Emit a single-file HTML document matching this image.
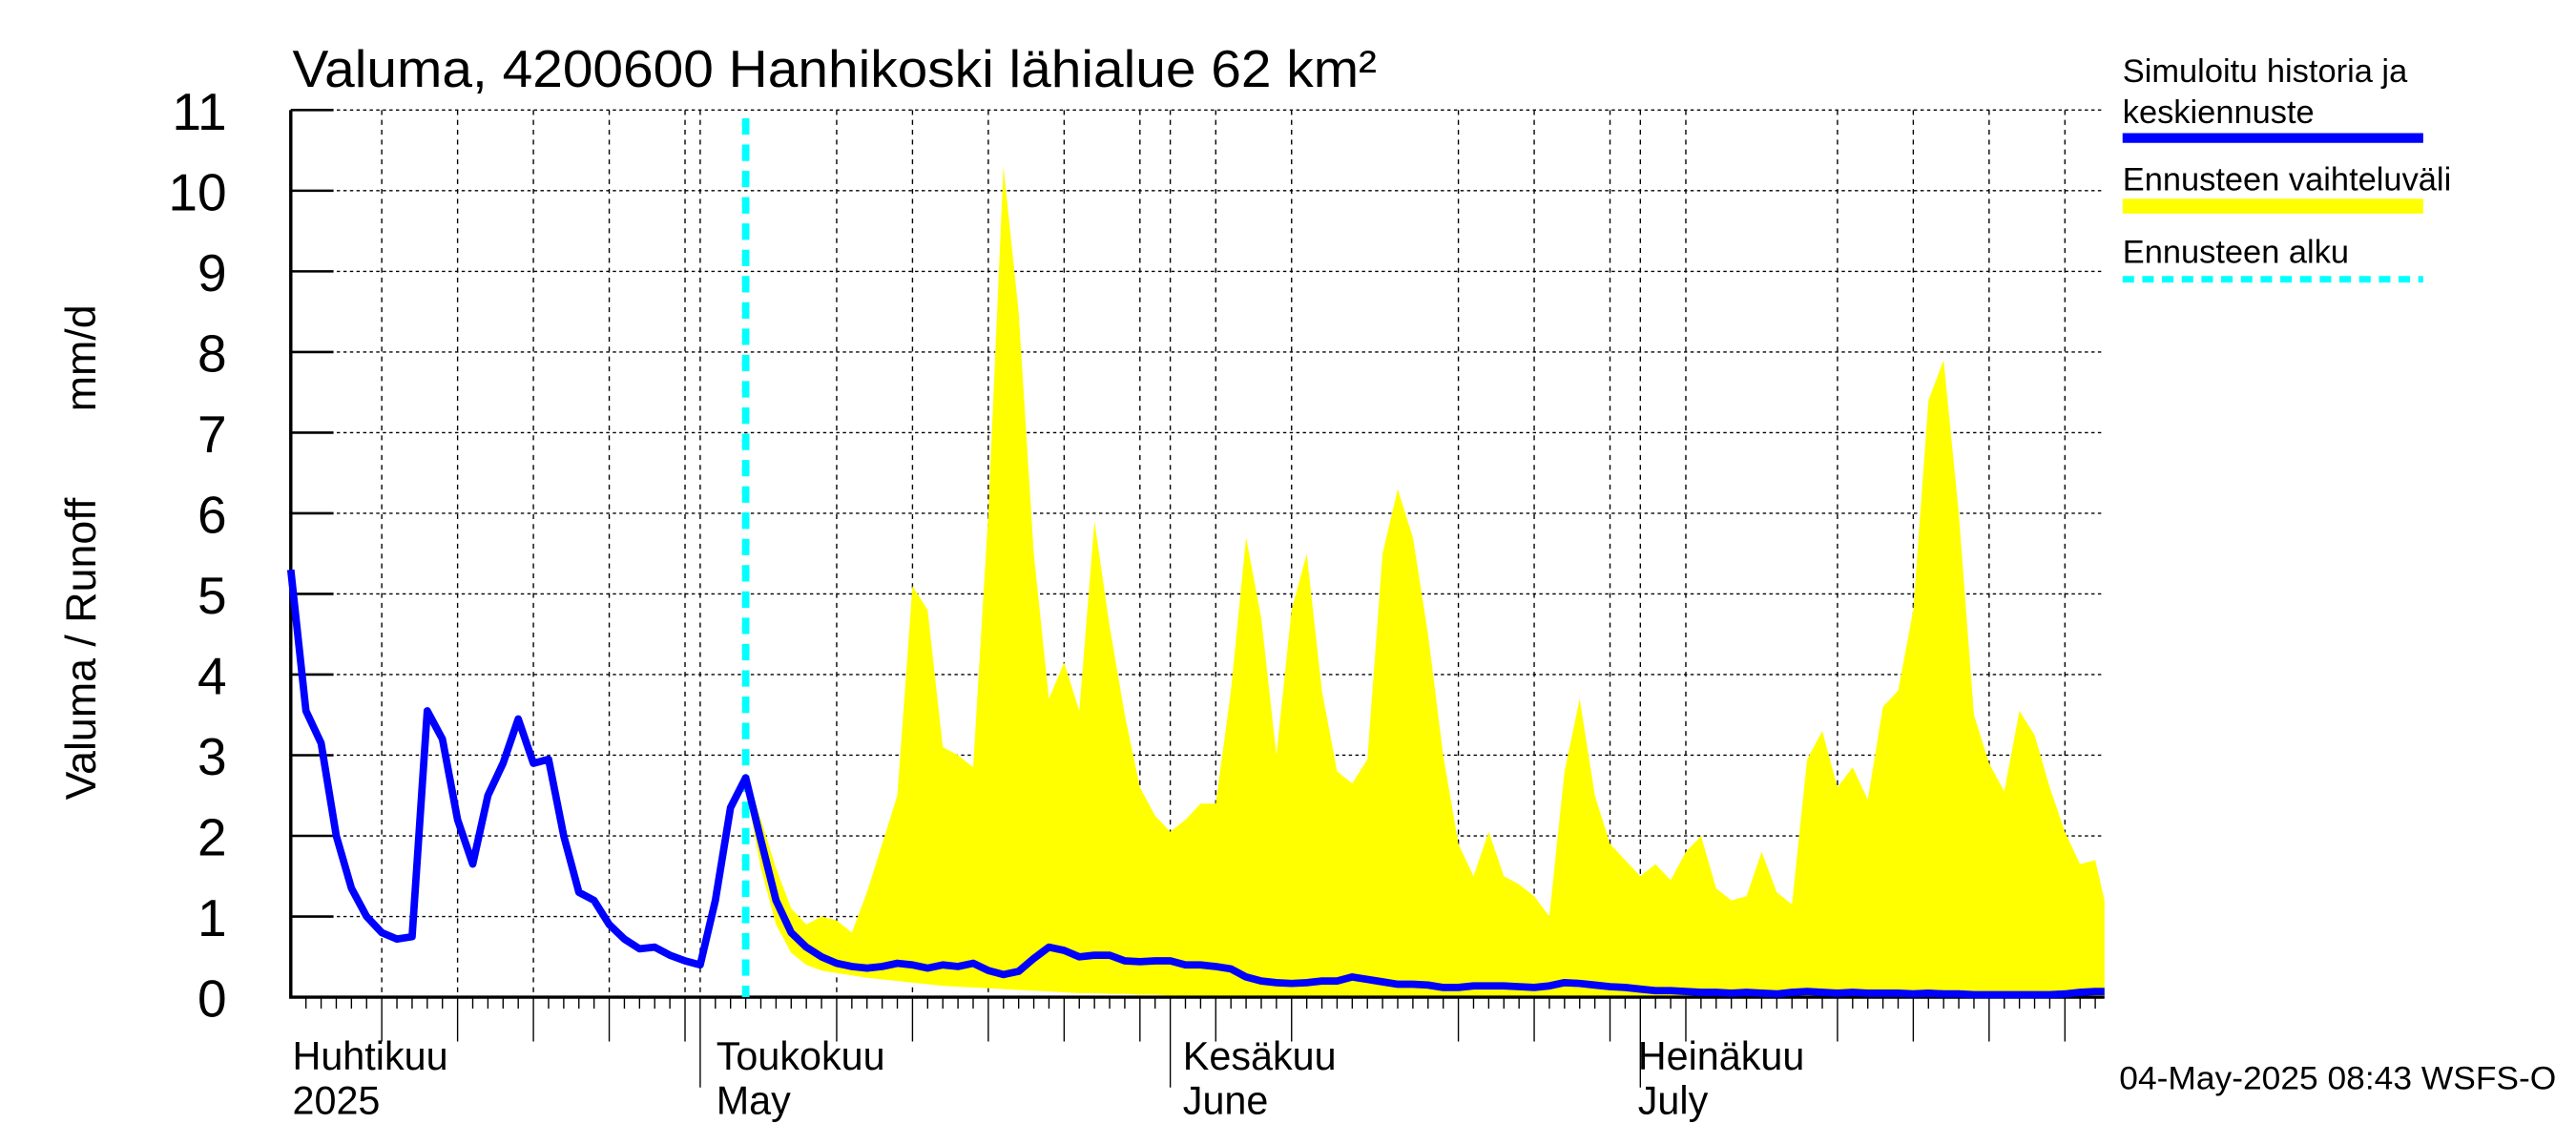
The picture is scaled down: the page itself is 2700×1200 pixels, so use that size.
<!DOCTYPE html>
<html><head><meta charset="utf-8"><style>html,body{margin:0;padding:0;background:#fff}svg{display:block}text{font-family:"Liberation Sans",sans-serif}</style></head>
<body>
<svg id="chart" width="2700" height="1200" viewBox="0 0 1568 697" preserveAspectRatio="none" xmlns="http://www.w3.org/2000/svg">
<g id="grid"></g>
<g id="band"></g>
<g id="axes"></g>
<g id="series"></g>
<text x="178" y="53" font-size="32" textLength="660" lengthAdjust="spacingAndGlyphs">Valuma, 4200600 Hanhikoski lähialue 62 km²</text>
<text transform="translate(58,395) rotate(-90)" text-anchor="middle" font-size="26">Valuma / Runoff</text>
<text transform="translate(58,218) rotate(-90)" text-anchor="middle" font-size="26">mm/d</text>
<g>
<text x="1292" y="50" font-size="20">Simuloitu historia ja</text>
<text x="1292" y="75" font-size="20">keskiennuste</text>
<line x1="1292" y1="84" x2="1475" y2="84" stroke="#0000ff" stroke-width="6"/>
<text x="1292" y="116" font-size="20">Ennusteen vaihteluväli</text>
<rect x="1292" y="121" width="183" height="9" fill="#ffff00"/>
<text x="1292" y="160" font-size="20">Ennusteen alku</text>
<line x1="1292" y1="170" x2="1475" y2="170" stroke="#00ffff" stroke-width="4" stroke-dasharray="7,5"/>
</g>
<text x="1290" y="663" font-size="20" textLength="266" lengthAdjust="spacingAndGlyphs">04-May-2025 08:43 WSFS-O</text>
</svg>
<script>
const simValues=[5.3,3.55,3.15,2.0,1.35,1.0,0.8,0.72,0.75,3.55,3.2,2.2,1.65,2.5,2.9,3.45,2.9,2.95,2.0,1.3,1.2,0.9,0.72,0.6,0.62,0.52,0.45,0.4,1.2,2.35,2.72,1.95,1.2,0.8,0.62,0.5,0.42,0.38,0.36,0.38,0.42,0.4,0.36,0.4,0.38,0.42,0.33,0.28,0.32,0.48,0.62,0.58,0.5,0.52,0.52,0.45,0.44,0.45,0.45,0.4,0.4,0.38,0.35,0.25,0.2,0.18,0.17,0.18,0.2,0.2,0.25,0.22,0.19,0.16,0.16,0.15,0.12,0.12,0.14,0.14,0.14,0.13,0.12,0.14,0.18,0.17,0.15,0.13,0.12,0.1,0.08,0.08,0.07,0.06,0.06,0.05,0.06,0.05,0.04,0.06,0.07,0.06,0.05,0.06,0.05,0.05,0.05,0.04,0.05,0.04,0.04,0.03,0.03,0.03,0.03,0.03,0.03,0.04,0.06,0.07,0.07];
const forecastStart=30;
const bandUpper=[2.8,2.2,1.6,1.1,0.9,1.0,0.95,0.8,1.3,1.9,2.5,5.1,4.8,3.1,3.0,2.85,6.0,10.3,8.5,5.5,3.7,4.15,3.55,5.9,4.6,3.5,2.6,2.25,2.05,2.2,2.4,2.4,3.8,5.7,4.7,3.0,4.8,5.5,3.8,2.8,2.65,2.95,5.5,6.3,5.7,4.5,3.0,1.9,1.5,2.05,1.5,1.4,1.25,1.0,2.8,3.7,2.5,1.9,1.7,1.5,1.65,1.45,1.8,2.0,1.35,1.2,1.25,1.8,1.3,1.15,2.95,3.3,2.6,2.85,2.45,3.6,3.8,4.8,7.4,7.9,6.0,3.5,2.9,2.55,3.55,3.25,2.6,2.05,1.65,1.7,1.2];
const bandLower=[2.6,1.6,0.9,0.55,0.4,0.33,0.3,0.27,0.24,0.22,0.2,0.18,0.16,0.14,0.13,0.12,0.11,0.1,0.09,0.08,0.07,0.06,0.05,0.05,0.04,0.04,0.03,0.03,0.02,0.02,0.02,0.01,0.01,0.01,0.01,0.01,0,0,0,0,0,0,0,0,0,0,0,0,0,0,0,0,0,0,0,0,0,0,0,0,0,0,0,0,0,0,0,0,0,0,0,0,0,0,0,0,0,0,0,0,0,0,0,0,0,0,0,0,0,0,0];
const yTicks=[0,1,2,3,4,5,6,7,8,9,10,11];
const monthDays=[27,58,89];
const monthLabels=[["Huhtikuu","2025",178],["Toukokuu","May",436],["Kesäkuu","June",720],["Heinäkuu","July",997]];
const gridDays=[6,11,16,21,26,36,41,46,51,56,61,66,77,82,87,92,102,107,112,117];
const NS="http://www.w3.org/2000/svg";
const X0=177,X1=1281,Y0=607,YT=67,DAY=9.23;
function xs(d){return Math.min(X0+d*DAY,X1);}
function ys(v){return Y0-v*(Y0-YT)/11;}
function mk(tag,attrs,parent){const e=document.createElementNS(NS,tag);for(const k in attrs)e.setAttribute(k,attrs[k]);document.getElementById(parent).appendChild(e);return e;}
yTicks.forEach(t=>{
 if(t>0){const g=mk('line',{x1:X0,x2:X1,y1:ys(t),y2:ys(t),stroke:'#000','stroke-width':0.8,'stroke-dasharray':'2,2'},'grid');
 
 }
});
gridDays.concat(monthDays).forEach(d=>{
 const g=mk('line',{x1:xs(d),x2:xs(d),y1:YT,y2:Y0,stroke:'#000','stroke-width':0.8,'stroke-dasharray':'3,3'},'grid');
 
 
});
let pts=[];
bandUpper.forEach((v,i)=>pts.push(xs(forecastStart+i)+','+ys(v)));
for(let i=bandLower.length-1;i>=0;i--)pts.push(xs(forecastStart+i)+','+ys(bandLower[i]));
const band=mk('polygon',{points:pts.join(' '),fill:'#ffff00'},'band');


const ax=mk('path',{d:`M${X0},${YT} V${Y0} H${X1}`,stroke:'#000','stroke-width':2,fill:'none'},'axes');


yTicks.forEach(t=>{
 const tk=mk('line',{x1:X0,x2:X0+26,y1:ys(t),y2:ys(t),stroke:'#000','stroke-width':1.5},'axes');
 
 
 const tl=mk('text',{x:138,y:ys(t)+12,'text-anchor':'end','font-size':32},'axes');
 tl.textContent=t;
 
 
});
for(let d=1;d<=119;d++){
 let len=7;
 if(gridDays.includes(d))len=27;
 if(monthDays.includes(d))len=55;
 const tk=mk('line',{x1:xs(d),x2:xs(d),y1:Y0,y2:Y0+len,stroke:'#000','stroke-width':0.8},'axes');
 
 
}
monthLabels.forEach(m=>{
 const a=mk('text',{x:m[2],y:651,'font-size':24},'axes');a.textContent=m[0];
 
 
 const b=mk('text',{x:m[2],y:678,'font-size':24},'axes');b.textContent=m[1];
 
 
});
const fs=mk('line',{x1:xs(forecastStart),x2:xs(forecastStart),y1:72,y2:Y0,stroke:'#00ffff','stroke-width':4.5,'stroke-dasharray':'10,6'},'series');


const sp=simValues.map((v,i)=>xs(i)+','+ys(v)).join(' ');
const sl=mk('polyline',{points:sp,fill:'none',stroke:'#0000ff','stroke-width':4.5,'stroke-linejoin':'round'},'series');


</script>
</body></html>
